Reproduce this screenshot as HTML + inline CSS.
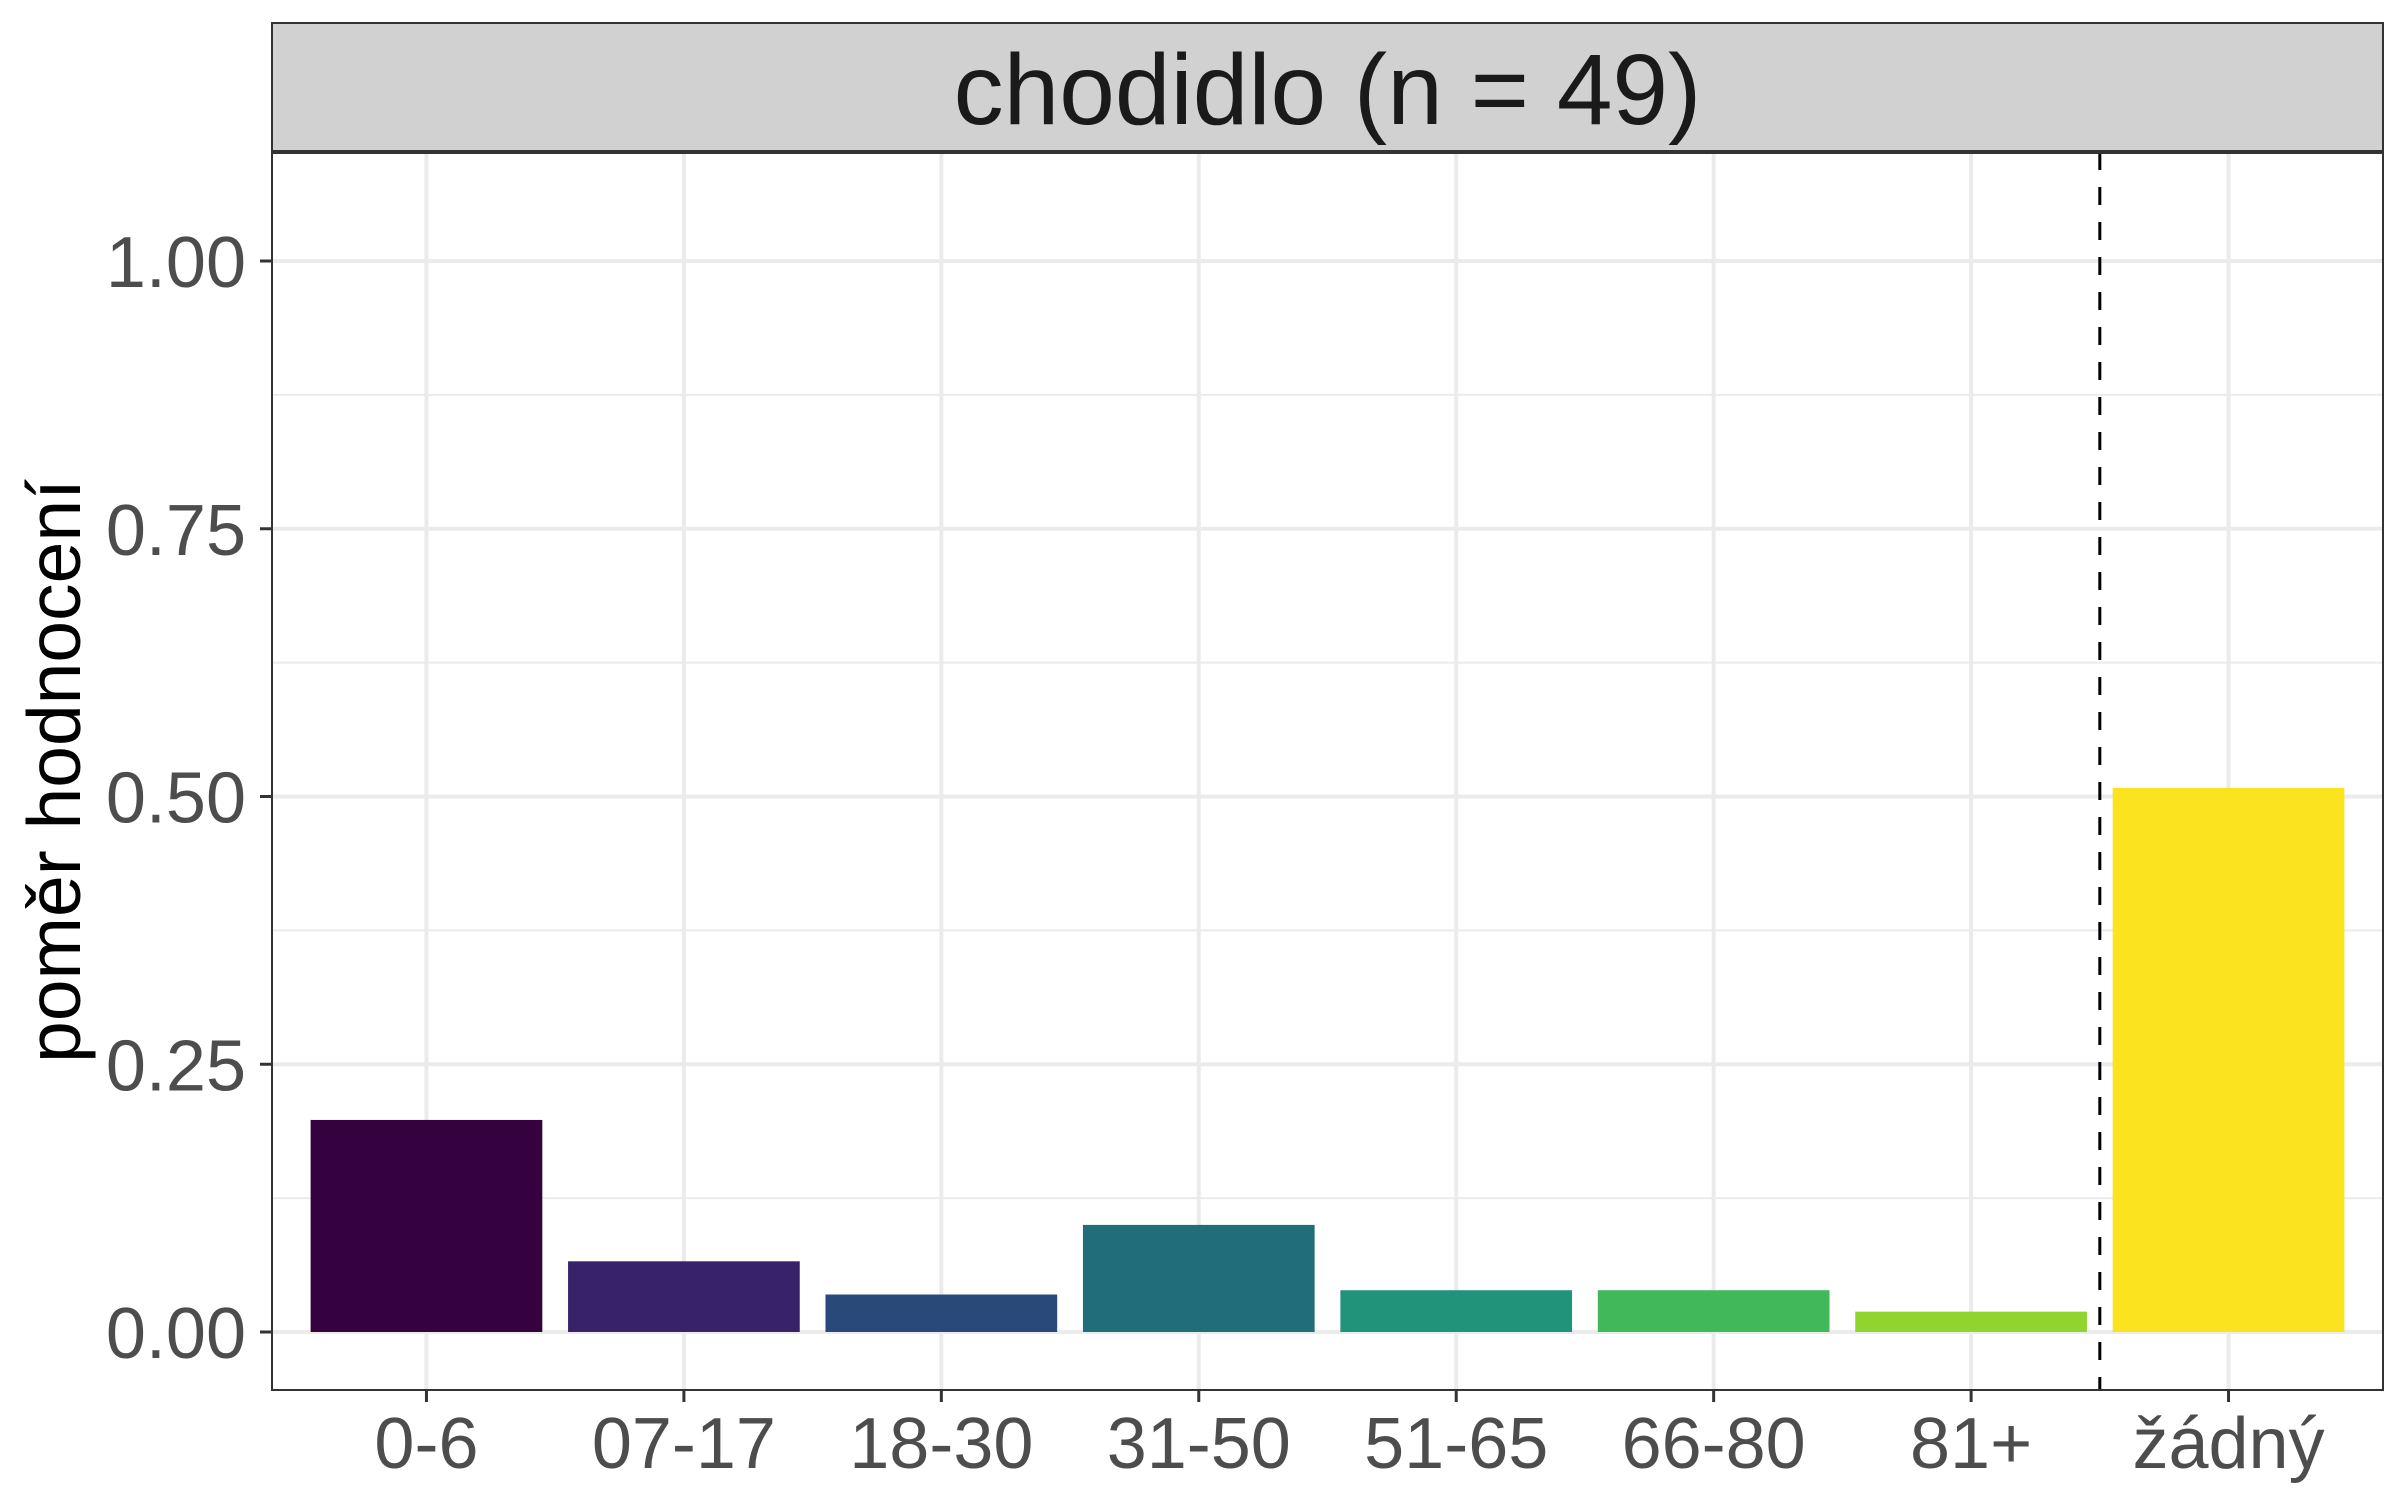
<!DOCTYPE html>
<html><head><meta charset="utf-8"><style>
html,body{margin:0;padding:0;background:#fff;}
svg{display:block;font-family:"Liberation Sans",Arial,sans-serif;}
</style></head><body>
<svg id="chart" width="2400" height="1500" viewBox="0 0 2400 1500">
<rect x="0" y="0" width="2400" height="1500" fill="#fff"/>
<g id="grid"></g>
<g id="bars"></g>
<g id="axes"></g>
</svg>
<script>
const categories = ["0-6","07-17","18-30","31-50","51-65","66-80","81+","žádný"];
const values = [0.198, 0.066, 0.035, 0.100, 0.039, 0.039, 0.019, 0.508];
const colors = ["#35013f","#38226a","#2a497b","#216d7a","#21937a","#41b85a","#90d52e","#fbe31f"];
const yTicks = [0, 0.25, 0.5, 0.75, 1.0];
const yTickLabels = ["0.00","0.25","0.50","0.75","1.00"];
const yMinor = [0.125, 0.375, 0.625, 0.875];
const title = "chodidlo (n = 49)";

const NS = "http://www.w3.org/2000/svg";
const L = 272, R = 2383, T = 152, B = 1390, stripTop = 23;
const y0 = 1332, yUnit = 1071;
const step = (R - L) / (categories.length + 0.2);
function xPos(i){ return L + step*0.6 + i*step; }
function yPos(v){ return y0 - v*yUnit; }
function mk(tag, attrs, parent){ const e=document.createElementNS(NS,tag); for(const k in attrs) e.setAttribute(k,attrs[k]); parent.appendChild(e); return e; }

const grid = document.getElementById('grid');
const bars = document.getElementById('bars');
const axes = document.getElementById('axes');

mk('rect',{x:L,y:T,width:R-L,height:B-T,fill:'#fff'},grid);
yMinor.forEach(v=>{
  const l = mk('line',{x1:L,x2:R,y1:yPos(v),y2:yPos(v),stroke:'#ebebeb','stroke-width':2},grid);
  
  
});
yTicks.forEach(v=>{
  const l = mk('line',{x1:L,x2:R,y1:yPos(v),y2:yPos(v),stroke:'#ebebeb','stroke-width':4},grid);
  
  
});
categories.forEach((c,i)=>{
  const l = mk('line',{x1:xPos(i),x2:xPos(i),y1:T,y2:B,stroke:'#ebebeb','stroke-width':4},grid);
  
  
});

const bw = step*0.9;
values.forEach((v,i)=>{
  const r = mk('rect',{x:xPos(i)-bw/2,y:yPos(v),width:bw,height:yPos(0)-yPos(v),fill:colors[i]},bars);
  
  
});

const dx = (xPos(6)+xPos(7))/2;
const dl = mk('line',{x1:dx,x2:dx,y1:T,y2:B,stroke:'#000','stroke-width':3,'stroke-dasharray':'18 17'},bars);



const pb = mk('rect',{x:L,y:T,width:R-L,height:B-T,fill:'none',stroke:'#333','stroke-width':2},axes);



const st = mk('rect',{x:L,y:stripTop,width:R-L,height:T-stripTop,fill:'#d1d1d1',stroke:'#333','stroke-width':2},axes);


const sl = mk('line',{x1:L,x2:R,y1:T,y2:T,stroke:'#333','stroke-width':4},axes);


const stt = mk('text',{x:(L+R)/2,y:T-28,'text-anchor':'middle','font-size':100,fill:'#1a1a1a'},axes);
stt.textContent = title;



yTicks.forEach((v,i)=>{
  const tk = mk('line',{x1:L-12,x2:L,y1:yPos(v),y2:yPos(v),stroke:'#333','stroke-width':3},axes);
  
  
  const t = mk('text',{x:L-26,y:yPos(v)+26,'text-anchor':'end','font-size':72,fill:'#4d4d4d'},axes);
  t.textContent = yTickLabels[i];
  
  
});
categories.forEach((c,i)=>{
  const tk = mk('line',{x1:xPos(i),x2:xPos(i),y1:B,y2:B+12,stroke:'#333','stroke-width':3},axes);
  
  
  const t = mk('text',{x:xPos(i),y:1468,'text-anchor':'middle','font-size':72,fill:'#4d4d4d'},axes);
  t.textContent = c;
  
  
});
const yt = mk('text',{x:0,y:0,'text-anchor':'middle','font-size':75,fill:'#000',transform:'translate(80,'+((T+B)/2)+') rotate(-90)'},axes);
yt.textContent = 'poměr hodnocení';


</script>
</body></html>
